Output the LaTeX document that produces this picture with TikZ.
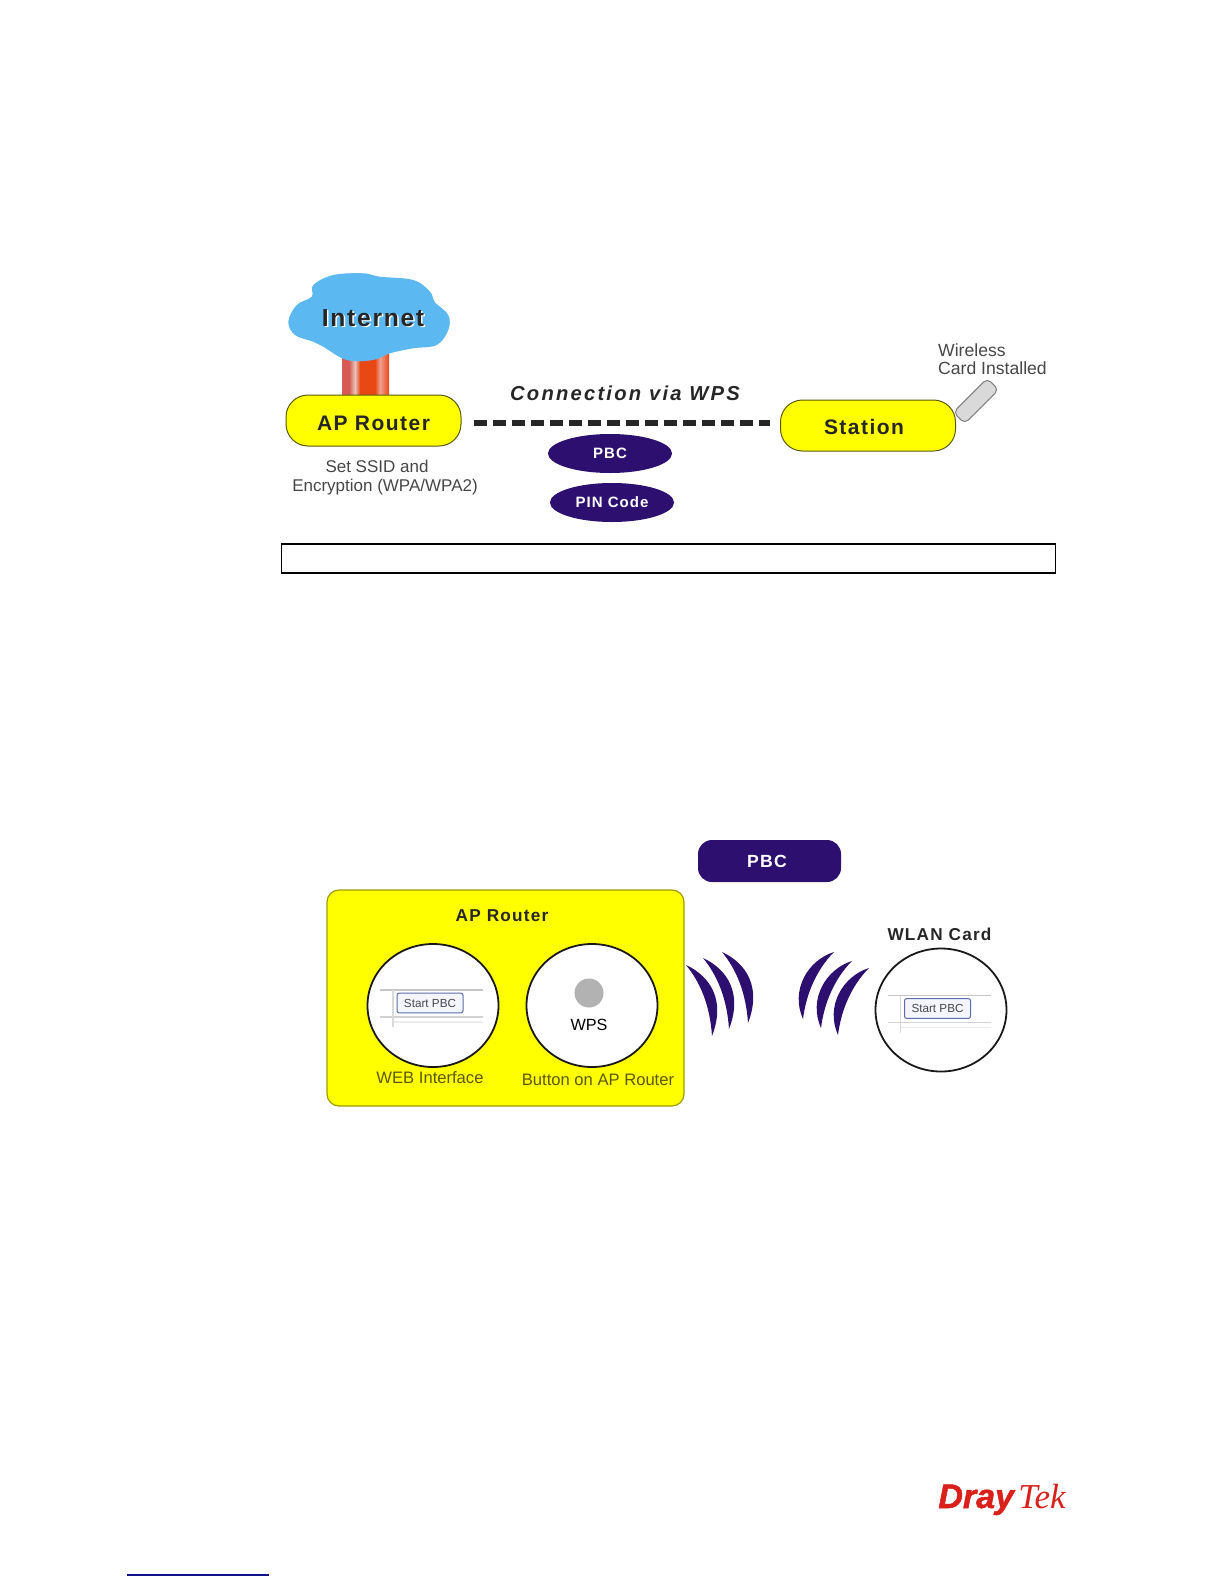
\documentclass[tikz,border=0pt]{standalone}
\usepackage{fontspec}
\setmainfont{Liberation Sans}
\newfontfamily\spacedfont[LetterSpace=7]{Liberation Sans}
\newfontfamily\widefont[LetterSpace=11]{Liberation Sans}
\newfontfamily\drayfont[BoldItalicFeatures={FakeBold=1.5}]{Liberation Sans}
\newfontfamily\tekfont{Liberation Serif}
\usepackage{tikz}
\usetikzlibrary{arrows.meta,calc,positioning,shapes.geometric}
\definecolor{routeryellow}{RGB}{255,255,0}
\definecolor{pillline}{RGB}{90,90,10}
\definecolor{deeppurple}{RGB}{45,15,112}
\definecolor{cloudblue}{RGB}{91,184,240}
\definecolor{inkgray}{RGB}{70,70,70}
\definecolor{logored}{RGB}{217,32,26}
\definecolor{linkblue}{RGB}{16,16,138}
\definecolor{btnline}{RGB}{90,110,170}
\definecolor{pipedeep}{RGB}{232,72,20}
\definecolor{piperose}{RGB}{216,90,84}
\definecolor{pipepale}{RGB}{232,196,188}
\definecolor{pipelight}{RGB}{240,160,144}
\newcommand{\fsz}[1]{\fontsize{#1}{#1}\selectfont}

\begin{document}
\begin{tikzpicture}[x=0.5pt,y=-0.5pt,
  pillbox/.style={draw=pillline,line width=0.5pt,fill=routeryellow,rounded corners=11pt,
    minimum width=87.5pt,minimum height=25.5pt,inner sep=0pt,text=black!85,font=\spacedfont\bfseries\fsz{10.5}},
  lensnode/.style={ellipse,fill=deeppurple,inner sep=0pt,minimum width=62pt,minimum height=19.5pt,
    text=white,font=\spacedfont\bfseries\fsz{7.5}},
  graytext/.style={inner sep=0pt,align=center,text=inkgray,font=\fsz{8.5}},
  headtext/.style={inner sep=0pt,text=black!85,font=\spacedfont\bfseries\fsz{8.6}},
  olivetext/.style={inner sep=0pt,text=pillline,font=\fsz{8.3}},
  lookcircle/.style={ellipse,draw=black!90,line width=0.9pt,fill=white,inner sep=0pt,
    minimum width=65.5pt,minimum height=61.5pt},
  startbtn/.style={draw=btnline,line width=0.5pt,fill=white!96!blue,rounded corners=1pt,inner sep=0pt,
    minimum width=33pt,minimum height=9.8pt,text=inkgray,font=\fsz{5.85}},
  waveshape/.style={fill=deeppurple}]
  \useasboundingbox (0,0) rectangle (1224,1584);

  \foreach \xa/\xb/\ca/\cb in {342/349/piperose/piperose,349/355/piperose/pipepale,355/360/pipepale/pipedeep,
      360/365/pipedeep/pipedeep,365/375/pipedeep/pipedeep,375/380/pipedeep/pipelight,380/389/pipelight/pipedeep}
    \shade[left color=\ca,right color=\cb] (\xa,350) rectangle (\xb,396);
  \fill[cloudblue] plot[smooth cycle,tension=0.6] coordinates {(288.3,321.7) (296.7,305) (311.7,296.7)
    (313.3,285) (333.3,275) (363.3,273.3) (380,276.7) (413.3,280) (430,291.7) (435,302.3) (448.3,315)
    (448.3,330) (436.7,345) (413.3,348.3) (390,353.3) (373.3,360) (346.7,360) (323.3,346.7)
    (313.3,341.7) (295,335)};
  \node[inner sep=0pt,text=white,font=\spacedfont\bfseries\fsz{12.3}] at (374.5,319.5) {Internet};
  \node[inner sep=0pt,text=black!85,font=\spacedfont\bfseries\fsz{12.3}] (internet) at (373,318) {Internet};

  \node[pillbox] (aprouter) at (373.5,420.5) {\raisebox{-5pt}[0pt][0pt]{AP Router}};
  \node[draw=gray,line width=0.5pt,fill=gray!30,rounded corners=2.5pt,rotate=45,
    minimum width=24pt,minimum height=8pt,inner sep=0pt] (cardstick) at (976,401) {};
  \node[pillbox] (station) at (868,425.5) {\raisebox{-4.5pt}[0pt][0pt]{Station}\hspace*{4pt}};
  \draw[line width=3pt,black!85,dash pattern=on 6.5pt off 3pt]
    ($(aprouter.east)+(12,2)$) -- ($(station.west)+(-10,-3)$);
  \node[inner sep=0pt,text=black!85,font=\widefont\bfseries\itshape\fsz{10.1}] (wpstitle) at (625,393) {Connection via WPS};
  \node[lensnode] (pbcpill) at (610,453.5) {PBC};
  \node[lensnode] (pincode) at (612,502.5) {PIN Code};
  \node[graytext] (setssid) at (385,478) {Set SSID and\hspace*{8pt}\\[1pt]Encryption (WPA/WPA2)};
  \node[graytext,align=left,font=\fsz{8.8}] (wireless) at (992.5,359.5) {Wireless\\Card Installed};
  \node[draw=black,line width=0.75pt,minimum width=387pt,minimum height=14.5pt,inner sep=0pt] (capbox) at (668.5,558.5) {};

  \node[draw=pillline!60!yellow,line width=0.6pt,fill=routeryellow,rounded corners=6pt,
    minimum width=178.5pt,minimum height=108pt,inner sep=0pt] (apbox) at (505.5,998) {};
  \node[headtext] (aptitle) at (502,916) {AP Router};
  \node[lookcircle] (webcircle) at (433,1005.5) {};
  \node[lookcircle] (wpscircle) at (592,1005.5) {};
  \node[lookcircle] (cardcircle) at (941,1010) {};
  \foreach \btnname/\btnx/\btny in {webbtn/430/1003,cardbtn/937.5/1008.5} {
    \draw[gray!45,line width=0.8pt] (\btnx-50,\btny-13) -- (\btnx+53,\btny-13);
    \draw[gray!35,line width=0.8pt] (\btnx-50,\btny+14) -- (\btnx+53,\btny+14);
    \draw[gray!15,line width=0.8pt] (\btnx-37,\btny+19) -- (\btnx+53,\btny+19);
    \draw[gray!30,line width=0.6pt] (\btnx-37,\btny-13) -- (\btnx-37,\btny+24);
    \node[startbtn] (\btnname) at (\btnx,\btny) {Start PBC};
  }
  \node[circle,fill=gray!60,minimum size=14.5pt,inner sep=0pt] (wpsbutton) at (589,993) {};
  \node[inner sep=0pt,text=black,font=\fsz{8.1}] (wpslabel) at (589,1025) {WPS};
  \node[olivetext] (weblabel) at (430,1078) {WEB Interface};
  \node[olivetext] (btnlabel) at (598,1080) {Button on AP Router};

  \node[fill=deeppurple,rounded corners=7pt,minimum width=71.5pt,minimum height=21pt,inner sep=0pt,
    text=white,font=\spacedfont\bfseries\fsz{8.8}] (pbcbar) at (769.5,861) {PBC\hspace*{2.5pt}};
  \node[headtext] (wlantitle) at (939.5,934) {WLAN Card};

  \foreach \sx/\sy in {0/0,17/-7,36/-13}
    \fill[waveshape,shift={(\sx*0.5pt,-\sy*0.5pt)}] (686,965) .. controls (710,976) and (726,1000) .. (712,1036)
      .. controls (710,1005) and (700,982) .. (686,965) -- cycle;
  \foreach \sx/\sy in {0/0,18/9,35/16}
    \fill[waveshape,shift={(\sx*0.5pt,-\sy*0.5pt)}] (834,952) .. controls (808,960) and (790,990) .. (803,1019)
      .. controls (806,995) and (816,970) .. (834,952) -- cycle;

  \node[anchor=base west,inner sep=0pt,text=logored,font=\drayfont\bfseries\itshape\fsz{17}] (drayword) at (938,1508) {Dray};
  \node[anchor=base west,inner sep=0pt,text=logored,font=\tekfont\itshape\fsz{17.5}] (tekword) at (1018,1508) {Tek};
  \coordinate (linkstart) at (127,1575);
  \coordinate (linkend) at (269,1575);
  \draw[linkblue,line width=0.8pt] (linkstart) -- (linkend);
\end{tikzpicture}
\end{document}
